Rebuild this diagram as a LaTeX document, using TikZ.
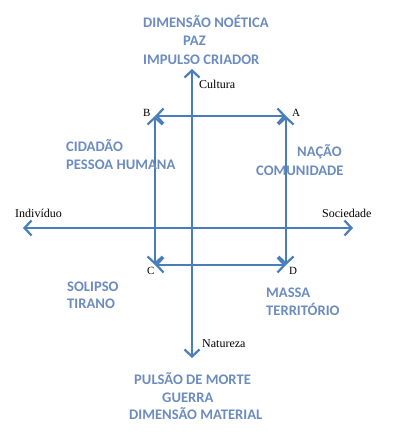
\documentclass[tikz,border=0pt]{standalone}
\usepackage{fontspec}
\setmainfont{Liberation Serif}
\newfontfamily\carlito{Carlito}
\usepackage{tikz}
\usetikzlibrary{arrows.meta}
\definecolor{lineblue}{RGB}{74,126,187}
\definecolor{textblue}{RGB}{108,140,192}

\tikzset{
  dimtext/.style={anchor=base west, inner sep=0pt, text=textblue,
    font=\carlito\bfseries\fontsize{14.6}{16}\selectfont},
  axtext/.style={anchor=base west, inner sep=0pt, font=\fontsize{12}{14}\selectfont},
  ptext/.style={anchor=base west, inner sep=0pt, font=\fontsize{11}{13}\selectfont},
  biarrow/.style={lineblue, line width=2.2pt, line cap=round,
    {Straight Barb[length=7pt,width=15pt]}-{Straight Barb[length=7pt,width=15pt]}}
}

\begin{document}
\begin{tikzpicture}[x=1pt, y=-1pt]
  \useasboundingbox (0,0) rectangle (411,435);
  % corners of the square
  \coordinate (A) at (286,116);
  \coordinate (B) at (155,116);
  \coordinate (C) at (155,265);
  \coordinate (D) at (286,265);
  % ends of the axes
  \coordinate (cultura) at (192,69);
  \coordinate (natureza) at (192,358);
  \coordinate (individuo) at (23,228);
  \coordinate (sociedade) at (353,228);

  \draw[biarrow] (individuo) -- (sociedade);
  \draw[biarrow] (natureza) -- (cultura);
  \draw[biarrow] (B) -- (A);
  \draw[biarrow] (C) -- (D);
  \draw[biarrow] (B) -- (C);
  \draw[biarrow] (A) -- (D);

  \node[ptext] (lblA) at (292,117) {A};
  \node[ptext] (lblB) at (143,117) {B};
  \node[ptext] (lblC) at (147,274) {C};
  \node[ptext] (lblD) at (289,274) {D};

  \node[axtext] (lblcultura) at (199,89) {Cultura};
  \node[axtext] (lblnatureza) at (202,347) {Natureza};
  \node[axtext] (lblindividuo) at (15,217) {Indivíduo};
  \node[axtext] (lblsociedade) at (322,217) {Sociedade};

  % top
  \node[dimtext] (noetica) at (143,28) {DIMENSÃO NOÉTICA};
  \node[dimtext] (paz) at (183,46) {PAZ};
  \node[dimtext] (impulso) at (143,65) {IMPULSO CRIADOR};
  % quadrants
  \node[dimtext] (cidadao) at (66,152) {CIDADÃO};
  \node[dimtext] (pessoa) at (66,170) {PESSOA HUMANA};
  \node[dimtext] (nacao) at (297,157) {NAÇÃO};
  \node[dimtext] (comunidade) at (256,176) {COMUNIDADE};
  \node[dimtext] (solipso) at (67,291) {SOLIPSO};
  \node[dimtext] (tirano) at (67,308) {TIRANO};
  \node[dimtext] (massa) at (266,297) {MASSA};
  \node[dimtext] (territorio) at (266,315) {TERRITÓRIO};
  % bottom
  \node[dimtext] (pulsao) at (134,384) {PULSÃO DE MORTE};
  \node[dimtext] (guerra) at (162,402) {GUERRA};
  \node[dimtext] (material) at (129,419) {DIMENSÃO MATERIAL};
\end{tikzpicture}
\end{document}
